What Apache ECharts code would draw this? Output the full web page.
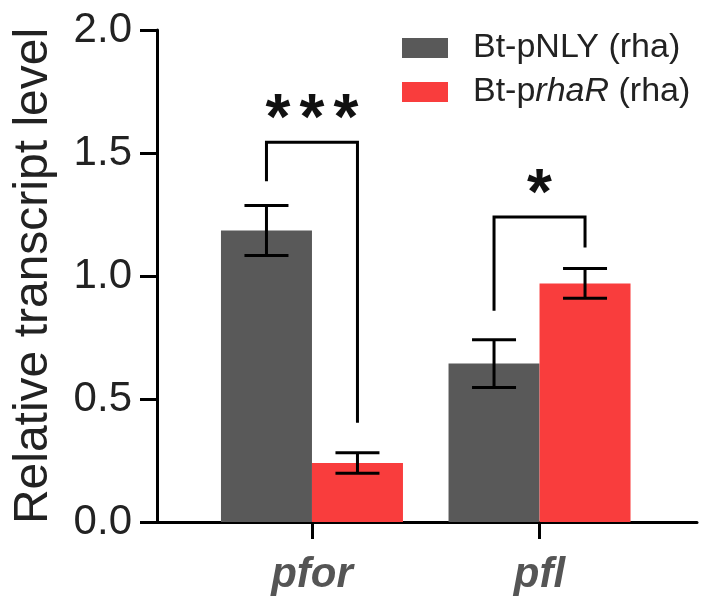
<!DOCTYPE html>
<html>
<head>
<meta charset="utf-8">
<title>Relative transcript level</title>
<script src="https://cdn.jsdelivr.net/npm/echarts@6.0.0/dist/echarts.min.js"></script>
<style>
  html, body { margin: 0; padding: 0; background: #fff; }
  #main { width: 709px; height: 598px; }
</style>
</head>
<body>
<div id="main"></div>
<script>
// 数据
var categories = ['pfor', 'pfl'];
var seriesNames = ['Bt-pNLY (rha)', 'Bt-prhaR (rha)'];
var nlyMean = [1.185, 0.644];
var nlyErr = [0.102, 0.097];
var rhaMean = [0.240, 0.970];
var rhaErr = [0.042, 0.060];
// 显著性标记: 左腿下端, 横线, 右腿下端, 星号位置
var sigLeft = [1.385, 0.859];
var sigTop = [1.544, 1.240];
var sigRight = [0.403, 1.116];
var sigStarY = [1.682, 1.377];
var sigText = ['***', '*'];

var GRAY = '#595959';
var RED = '#f93d3d';
var FONT = 'Liberation Sans, Arial, sans-serif';
var BAR_W = 91;

var chart = echarts.init(document.getElementById('main'));

function pairs(vals) {
  return vals.map(function (v, i) { return [i, v]; });
}

// 误差线数据: [类别, 均值, 误差, 左/右]
var errData = [];
categories.forEach(function (c, i) {
  errData.push([i, nlyMean[i], nlyErr[i], -1]);
  errData.push([i, rhaMean[i], rhaErr[i], 1]);
});

var sigData = categories.map(function (c, i) {
  return [i, sigLeft[i], sigTop[i], sigRight[i], sigStarY[i]];
});

var option = {
  animation: false,
  textStyle: { fontFamily: FONT },
  grid: { left: 157, right: 12, top: 30, bottom: 76, outerBoundsMode: 'none', containLabel: false },
  legend: {
    orient: 'vertical',
    left: 402,
    top: 31,
    padding: 0,
    itemWidth: 46,
    itemHeight: 20,
    itemGap: 10,
    icon: 'rect',
    data: seriesNames,
    formatter: function (name) {
      if (name === seriesNames[1]) return '{n|Bt-p}{i|rhaR}{n| (rha)}';
      return '{n|' + name + '}';
    },
    textStyle: {
      padding: [0, 0, 0, 20],
      rich: {
        n: { fontSize: 34, color: '#222', fontFamily: FONT, lineHeight: 34 },
        i: { fontSize: 34, color: '#222', fontFamily: FONT, fontStyle: 'italic', lineHeight: 34 }
      }
    }
  },
  xAxis: {
    type: 'value',
    min: -0.681,
    max: 1.692,
    splitLine: { show: false },
    axisLine: { show: true, onZero: false, lineStyle: { color: '#000', width: 3 } },
    axisTick: { show: true, customValues: [0, 1], length: 17, lineStyle: { color: '#000', width: 3 } },
    axisLabel: {
      customValues: [0, 1],
      formatter: function (v) { return categories[Math.round(v)]; },
      fontSize: 42,
      fontStyle: 'italic',
      fontWeight: 'bold',
      color: '#555',
      margin: 32
    }
  },
  yAxis: {
    type: 'value',
    min: 0,
    max: 2,
    interval: 0.5,
    name: 'Relative transcript level',
    nameLocation: 'middle',
    nameGap: 99,
    nameTextStyle: { fontSize: 48, color: '#222' },
    splitLine: { show: false },
    axisLine: { show: true, onZero: false, lineStyle: { color: '#000', width: 3 } },
    axisTick: { show: true, length: 17, lineStyle: { color: '#000', width: 3 } },
    axisLabel: {
      formatter: function (v) { return v.toFixed(1); },
      fontSize: 42,
      color: '#222',
      margin: 25
    }
  },
  series: [
    {
      name: seriesNames[0],
      type: 'bar',
      barWidth: BAR_W,
      barGap: '0%',
      itemStyle: { color: GRAY },
      data: pairs(nlyMean)
    },
    {
      name: seriesNames[1],
      type: 'bar',
      barWidth: BAR_W,
      barGap: '0%',
      itemStyle: { color: RED },
      data: pairs(rhaMean)
    },
    {
      // 误差线
      type: 'custom',
      silent: true,
      data: errData,
      z: 5,
      renderItem: function (params, api) {
        var x = api.coord([api.value(0), 0])[0] + api.value(3) * BAR_W / 2;
        var hi = api.coord([0, api.value(1) + api.value(2)])[1];
        var lo = api.coord([0, api.value(1) - api.value(2)])[1];
        var cap = 22;
        var st = { stroke: '#000', lineWidth: 3 };
        return {
          type: 'group',
          children: [
            { type: 'line', shape: { x1: x, y1: hi, x2: x, y2: lo }, style: st },
            { type: 'line', shape: { x1: x - cap, y1: hi, x2: x + cap, y2: hi }, style: st },
            { type: 'line', shape: { x1: x - cap, y1: lo, x2: x + cap, y2: lo }, style: st }
          ]
        };
      }
    },
    {
      // 显著性括号和星号
      type: 'custom',
      silent: true,
      data: sigData,
      z: 5,
      renderItem: function (params, api) {
        var cx = api.coord([api.value(0), 0])[0];
        var x0 = cx - BAR_W / 2;
        var x1 = cx + BAR_W / 2;
        var yl = api.coord([0, api.value(1)])[1];
        var yt = api.coord([0, api.value(2)])[1];
        var yr = api.coord([0, api.value(3)])[1];
        var ys = api.coord([0, api.value(4)])[1];
        var txt = sigText[params.dataIndex];
        var kids = [{
          type: 'polyline',
          shape: { points: [[x0, yl], [x0, yt], [x1, yt], [x1, yr]] },
          style: { stroke: '#000', lineWidth: 3, fill: null }
        }];
        var n = txt.length;
        var fs = 64;
        for (var k = 0; k < n; k++) {
          kids.push({
            type: 'text',
            style: {
              text: '*',
              x: cx + (k - (n - 1) / 2) * 34,
              y: ys + fs * 0.2,
              align: 'center',
              verticalAlign: 'middle',
              fontSize: fs,
              fontWeight: 'bold',
              fontFamily: FONT,
              fill: '#111'
            }
          });
        }
        return { type: 'group', children: kids };
      }
    }
  ]
};

chart.setOption(option);
</script>
</body>
</html>
